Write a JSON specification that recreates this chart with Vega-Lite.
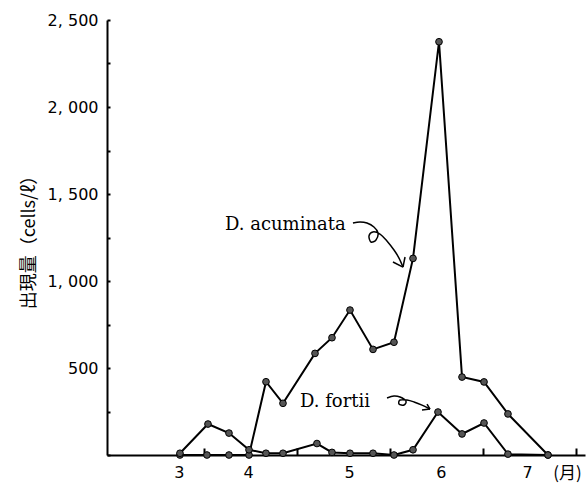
{
  "$schema": "https://vega.github.io/schema/vega-lite/v6.json",
  "width": 478,
  "height": 435,
  "autosize": "none",
  "padding": {"left": 107, "top": 20, "right": 1, "bottom": 33},
  "background": "white",
  "config": {"view": {"stroke": null}, "axis": {"grid": false}},
  "datasets": {
    "obs": [
      {"series": "D. acuminata", "m": 3.736, "v": 0},
      {"series": "D. acuminata", "m": 4.027, "v": 0},
      {"series": "D. acuminata", "m": 4.264, "v": 0},
      {"series": "D. acuminata", "m": 4.48, "v": 0},
      {"series": "D. acuminata", "m": 4.663, "v": 421},
      {"series": "D. acuminata", "m": 4.846, "v": 297},
      {"series": "D. acuminata", "m": 5.191, "v": 584},
      {"series": "D. acuminata", "m": 5.374, "v": 674},
      {"series": "D. acuminata", "m": 5.568, "v": 833},
      {"series": "D. acuminata", "m": 5.816, "v": 607},
      {"series": "D. acuminata", "m": 6.042, "v": 648},
      {"series": "D. acuminata", "m": 6.247, "v": 1130},
      {"series": "D. acuminata", "m": 6.527, "v": 2375},
      {"series": "D. acuminata", "m": 6.775, "v": 448},
      {"series": "D. acuminata", "m": 7.012, "v": 420},
      {"series": "D. acuminata", "m": 7.27, "v": 236},
      {"series": "D. acuminata", "m": 7.701, "v": 0},
      {"series": "D. fortii", "m": 3.736, "v": 10},
      {"series": "D. fortii", "m": 4.038, "v": 178},
      {"series": "D. fortii", "m": 4.264, "v": 126},
      {"series": "D. fortii", "m": 4.48, "v": 30},
      {"series": "D. fortii", "m": 4.663, "v": 10},
      {"series": "D. fortii", "m": 4.846, "v": 10},
      {"series": "D. fortii", "m": 5.212, "v": 66},
      {"series": "D. fortii", "m": 5.374, "v": 15},
      {"series": "D. fortii", "m": 5.568, "v": 10},
      {"series": "D. fortii", "m": 5.816, "v": 10},
      {"series": "D. fortii", "m": 6.042, "v": 0},
      {"series": "D. fortii", "m": 6.247, "v": 30},
      {"series": "D. fortii", "m": 6.516, "v": 247},
      {"series": "D. fortii", "m": 6.775, "v": 121},
      {"series": "D. fortii", "m": 7.012, "v": 184},
      {"series": "D. fortii", "m": 7.27, "v": 5},
      {"series": "D. fortii", "m": 7.701, "v": 0}
    ],
    "labels": [
      {"label": "D. acuminata", "m": 4.221, "v": 1293},
      {"label": "D. fortii", "m": 5.029, "v": 276}
    ],
    "arrows": [
      {"grp": "a", "ord": 1, "m": 5.6, "v": 1333},
      {"grp": "a", "ord": 2, "m": 5.676, "v": 1339},
      {"grp": "a", "ord": 3, "m": 5.751, "v": 1333},
      {"grp": "a", "ord": 4, "m": 5.826, "v": 1310},
      {"grp": "a", "ord": 5, "m": 5.87, "v": 1276},
      {"grp": "a", "ord": 6, "m": 5.848, "v": 1236},
      {"grp": "a", "ord": 7, "m": 5.794, "v": 1224},
      {"grp": "a", "ord": 8, "m": 5.773, "v": 1259},
      {"grp": "a", "ord": 9, "m": 5.815, "v": 1282},
      {"grp": "a", "ord": 10, "m": 5.891, "v": 1270},
      {"grp": "a", "ord": 11, "m": 5.966, "v": 1230},
      {"grp": "a", "ord": 12, "m": 6.042, "v": 1178},
      {"grp": "a", "ord": 13, "m": 6.096, "v": 1132},
      {"grp": "a", "ord": 14, "m": 6.139, "v": 1080},
      {"grp": "f", "ord": 1, "m": 5.967, "v": 328},
      {"grp": "f", "ord": 2, "m": 6.042, "v": 339},
      {"grp": "f", "ord": 3, "m": 6.107, "v": 333},
      {"grp": "f", "ord": 4, "m": 6.171, "v": 310},
      {"grp": "f", "ord": 5, "m": 6.15, "v": 287},
      {"grp": "f", "ord": 6, "m": 6.096, "v": 293},
      {"grp": "f", "ord": 7, "m": 6.107, "v": 316},
      {"grp": "f", "ord": 8, "m": 6.182, "v": 316},
      {"grp": "f", "ord": 9, "m": 6.258, "v": 305},
      {"grp": "f", "ord": 10, "m": 6.344, "v": 287},
      {"grp": "f", "ord": 11, "m": 6.43, "v": 264}
    ],
    "barbs": [
      {"grp": "a1", "ord": 1, "m": 6.031, "v": 1109},
      {"grp": "a1", "ord": 2, "m": 6.139, "v": 1080},
      {"grp": "a2", "ord": 1, "m": 6.161, "v": 1138},
      {"grp": "a2", "ord": 2, "m": 6.139, "v": 1080},
      {"grp": "f1", "ord": 1, "m": 6.344, "v": 259},
      {"grp": "f1", "ord": 2, "m": 6.43, "v": 264},
      {"grp": "f2", "ord": 1, "m": 6.398, "v": 293},
      {"grp": "f2", "ord": 2, "m": 6.43, "v": 264}
    ]
  },
  "encoding": {
    "y": {
      "field": "v",
      "type": "quantitative",
      "scale": {"domain": [0, 2500], "nice": false, "zero": true},
      "axis": {
        "title": "出現量（cells/ℓ）",
        "values": [0, 250, 500, 750, 1000, 1250, 1500, 1750, 2000, 2250, 2500],
        "labelExpr": "datum.value % 500 == 0 && datum.value > 0 ? replace(format(datum.value, ','), ',', ', ') : ''",
        "tickSize": -3,
        "tickWidth": 2,
        "tickColor": "black",
        "domainColor": "black",
        "domainWidth": 2,
        "labelFont": "DejaVu Sans",
        "labelFontSize": 16,
        "labelColor": "black",
        "labelPadding": 12,
        "labelFlush": false,
        "labelOverlap": false,
        "titleFont": "Noto Sans CJK JP",
        "titleFontSize": 18,
        "titleFontWeight": "normal",
        "titleColor": "black",
        "titleX": -78,
        "titleY": 217.5,
        "titleAlign": "center",
        "titleBaseline": "middle",
        "titleAngle": -90,
        "grid": false
      }
    }
  },
  "layer": [
    {
      "data": {"name": "obs"},
      "mark": {"type": "line", "color": "black", "strokeWidth": 2},
      "encoding": {
        "x": {
          "field": "m",
          "type": "quantitative",
          "scale": {"domain": [2.95, 8.1], "nice": false, "zero": false},
          "axis": {
            "orient": "bottom",
            "values": [4, 5, 6, 7, 8],
            "labels": false,
            "tickSize": -7,
            "tickWidth": 2,
            "tickColor": "black",
            "domainColor": "black",
            "domainWidth": 2,
            "title": "(月)",
            "titleFont": "Noto Sans CJK JP",
            "titleFontSize": 17,
            "titleFontWeight": "normal",
            "titleColor": "black",
            "titleX": 460,
            "titleY": 18,
            "titleAlign": "center",
            "titleBaseline": "middle",
            "grid": false
          }
        },
        "detail": {"field": "series"}
      }
    },
    {
      "data": {"name": "obs"},
      "mark": {"type": "point", "filled": true, "fill": "#555555", "stroke": "black", "strokeWidth": 1, "size": 45, "opacity": 1},
      "encoding": {
        "x": {
          "field": "m",
          "type": "quantitative",
          "axis": {
            "orient": "bottom",
            "values": [3.725, 4.469, 5.557, 6.548, 7.475],
            "labelExpr": "format(floor(datum.value), 'd')",
            "ticks": false,
            "domain": false,
            "labelPadding": 9,
            "labelFont": "DejaVu Sans",
            "labelFontSize": 16,
            "labelColor": "black",
            "labelFlush": false,
            "labelOverlap": false,
            "title": null,
            "grid": false
          }
        }
      }
    },
    {
      "data": {"name": "labels"},
      "mark": {"type": "text", "align": "left", "baseline": "alphabetic", "font": "DejaVu Serif", "fontSize": 18, "color": "black"},
      "encoding": {
        "x": {"field": "m", "type": "quantitative", "axis": null},
        "text": {"field": "label"}
      }
    },
    {
      "data": {"name": "arrows"},
      "mark": {"type": "line", "color": "black", "strokeWidth": 1.5, "interpolate": "cardinal"},
      "encoding": {
        "x": {"field": "m", "type": "quantitative", "axis": null},
        "detail": {"field": "grp"},
        "order": {"field": "ord", "type": "quantitative"}
      }
    },
    {
      "data": {"name": "barbs"},
      "mark": {"type": "line", "color": "black", "strokeWidth": 1.5},
      "encoding": {
        "x": {"field": "m", "type": "quantitative", "axis": null},
        "detail": {"field": "grp"},
        "order": {"field": "ord", "type": "quantitative"}
      }
    }
  ],
  "resolve": {"axis": {"x": "independent"}}
}
